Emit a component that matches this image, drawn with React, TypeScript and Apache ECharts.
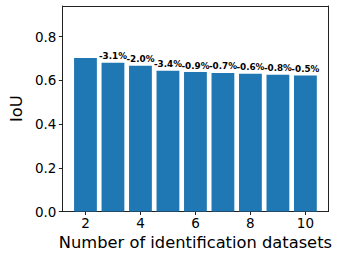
import React, { useEffect, useRef } from "react";
import * as echarts from "echarts";

const datasetCounts = [2, 3, 4, 5, 6, 7, 8, 9, 10];
const iouValues = [0.702, 0.68, 0.667, 0.644, 0.638, 0.634, 0.63, 0.625, 0.622];
const changeLabels = ["", "-3.1%", "-2.0%", "-3.4%", "-0.9%", "-0.7%", "-0.6%", "-0.8%", "-0.5%"];
const xTicks = [2, 4, 6, 8, 10];
const yTicks = [0, 0.2, 0.4, 0.6, 0.8];

export default function App() {
  const ref = useRef<HTMLDivElement>(null);
  useEffect(() => {
    const chart = echarts.init(ref.current!, null, { renderer: "svg" });
    const font = "DejaVu Sans";
    const frame = { show: true, onZero: false, lineStyle: { color: "#222", width: 1 } };
    chart.setOption({
      animation: false,
      textStyle: { fontFamily: font },
      grid: { left: 52, right: 10.5, top: 6, bottom: 44.5 },
      xAxis: [
        {
          type: "value",
          min: 1.16,
          max: 10.84,
          name: "Number of identification datasets",
          nameLocation: "middle",
          nameGap: 22,
          nameTextStyle: { fontSize: 16.3, color: "#000", fontFamily: font },
          axisLine: frame,
          axisTick: { show: true, length: 3.5, customValues: xTicks, lineStyle: { color: "#222" } },
          axisLabel: { customValues: xTicks, fontSize: 13.5, color: "#000", margin: 4, fontFamily: font },
          splitLine: { show: false },
        },
        {
          type: "value",
          position: "top",
          min: 1.16,
          max: 10.84,
          axisLine: frame,
          axisTick: { show: false },
          axisLabel: { show: false },
          splitLine: { show: false },
        },
      ],
      yAxis: [
        {
          type: "value",
          min: 0,
          max: 0.94,
          name: "IoU",
          nameLocation: "middle",
          nameGap: 35,
          nameRotate: 90,
          nameTextStyle: { fontSize: 16.3, color: "#000", fontFamily: font },
          axisLine: frame,
          axisTick: { show: true, length: 3.5, customValues: yTicks, lineStyle: { color: "#222" } },
          axisLabel: {
            customValues: yTicks,
            fontSize: 13.5,
            color: "#000",
            margin: 6,
            fontFamily: font,
            formatter: (v: number) => v.toFixed(1),
          },
          splitLine: { show: false },
        },
        {
          type: "value",
          position: "right",
          min: 0,
          max: 0.94,
          axisLine: frame,
          axisTick: { show: false },
          axisLabel: { show: false },
          splitLine: { show: false },
        },
      ],
      series: [
        {
          type: "bar",
          barWidth: 22.8,
          data: datasetCounts.map((x, i) => [x, iouValues[i]]),
          itemStyle: { color: "#1f77b4" },
          label: {
            show: true,
            position: "top",
            distance: 2,
            fontSize: 8.8,
            fontWeight: "bold",
            color: "#000",
            fontFamily: font,
            formatter: (p: any) => changeLabels[p.dataIndex],
          },
        },
      ],
    });
    return () => chart.dispose();
  }, []);
  return (
    <div
      ref={ref}
      style={{ position: "absolute", left: 0, top: 0, width: 339, height: 256 }}
    />
  );
}
